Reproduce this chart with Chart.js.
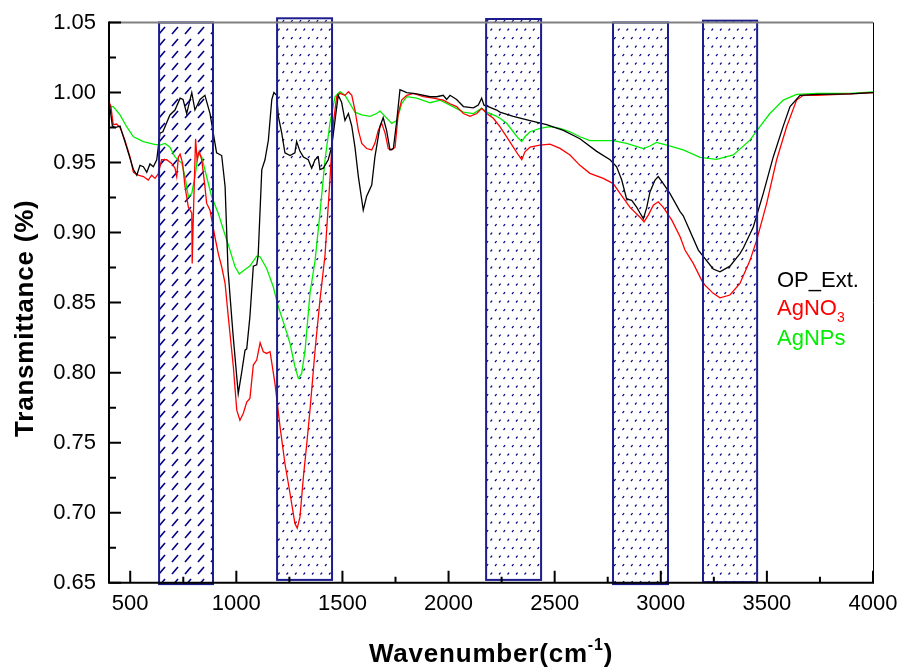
<!DOCTYPE html>
<html>
<head>
<meta charset="utf-8">
<script src="https://cdn.jsdelivr.net/npm/chart.js@4"></script>
<style>
  html, body { margin: 0; padding: 0; background: #fff; }
</style>
</head>
<body>
<canvas id="ftir" width="899" height="667"></canvas>
<script>
// FTIR spectra (wavenumber in cm-1, transmittance)
const opExtWavenumber = [400, 416, 428, 452, 483, 515, 531, 546, 562, 578, 593, 609, 625, 640, 654, 687, 711, 735, 749, 766, 790, 805, 829, 852, 876, 907, 931, 947, 961, 984, 1009, 1025, 1041, 1049, 1064, 1080, 1096, 1103, 1120, 1135, 1151, 1167, 1177, 1190, 1198, 1214, 1229, 1253, 1276, 1284, 1300, 1316, 1339, 1355, 1371, 1386, 1394, 1410, 1433, 1449, 1465, 1480, 1496, 1512, 1528, 1544, 1559, 1575, 1598, 1614, 1638, 1653, 1677, 1692, 1708, 1724, 1740, 1756, 1771, 1803, 1850, 1913, 1944, 1975, 1991, 2007, 2038, 2070, 2117, 2140, 2156, 2167, 2187, 2227, 2242, 2305, 2384, 2462, 2541, 2619, 2698, 2761, 2792, 2816, 2839, 2863, 2887, 2902, 2918, 2934, 2949, 2973, 2988, 3012, 3043, 3091, 3106, 3177, 3200, 3247, 3279, 3326, 3373, 3389, 3436, 3483, 3530, 3577, 3609, 3656, 3735, 3892, 4000];
const opExtT = [0.994, 0.976, 0.975, 0.976, 0.961, 0.945, 0.941, 0.948, 0.947, 0.943, 0.949, 0.947, 0.952, 0.971, 0.972, 0.984, 0.9875, 0.996, 0.995, 0.985, 1.000, 0.9875, 0.995, 0.998, 0.985, 0.957, 0.955, 0.933, 0.873, 0.828, 0.785, 0.800, 0.816, 0.817, 0.840, 0.876, 0.877, 0.884, 0.945, 0.952, 0.966, 0.995, 1.000, 0.998, 0.983, 0.971, 0.957, 0.955, 0.957, 0.965, 0.958, 0.954, 0.952, 0.946, 0.952, 0.954, 0.945, 0.946, 0.952, 0.961, 0.980, 0.998, 0.993, 0.980, 0.985, 0.976, 0.961, 0.940, 0.916, 0.926, 0.934, 0.954, 0.976, 0.982, 0.973, 0.959, 0.960, 0.980, 1.002, 1.000, 0.999, 0.997, 0.997, 0.998, 0.995, 0.998, 0.995, 0.990, 0.989, 0.991, 0.996, 0.991, 0.990, 0.9875, 0.986, 0.983, 0.980, 0.977, 0.973, 0.967, 0.958, 0.952, 0.947, 0.9375, 0.924, 0.923, 0.918, 0.914, 0.910, 0.918, 0.929, 0.9375, 0.940, 0.935, 0.928, 0.915, 0.912, 0.8875, 0.883, 0.874, 0.872, 0.876, 0.885, 0.889, 0.904, 0.928, 0.954, 0.976, 0.990, 0.998, 0.9987, 0.999, 1.000];

const agno3Wavenumber = [400, 409, 420, 436, 452, 475, 499, 515, 538, 562, 585, 601, 617, 632, 648, 672, 695, 711, 719, 727, 735, 747, 758, 774, 790, 792, 797, 808, 815, 825, 837, 852, 860, 876, 899, 915, 931, 947, 962, 986, 1002, 1017, 1033, 1049, 1064, 1080, 1096, 1112, 1127, 1143, 1159, 1182, 1206, 1229, 1253, 1276, 1287, 1300, 1316, 1332, 1347, 1371, 1394, 1418, 1441, 1457, 1473, 1488, 1512, 1528, 1544, 1559, 1575, 1591, 1614, 1638, 1653, 1669, 1685, 1701, 1716, 1732, 1748, 1763, 1779, 1803, 1834, 1881, 1928, 1975, 2007, 2038, 2070, 2101, 2133, 2156, 2180, 2211, 2242, 2274, 2305, 2329, 2345, 2360, 2384, 2431, 2478, 2525, 2572, 2619, 2666, 2729, 2776, 2808, 2855, 2902, 2921, 2941, 2965, 2988, 3012, 3052, 3091, 3114, 3153, 3200, 3247, 3279, 3326, 3373, 3420, 3452, 3499, 3546, 3593, 3640, 3672, 3735, 3892, 4000];
const agno3T = [0.9934, 0.990, 0.977, 0.9775, 0.975, 0.966, 0.954, 0.943, 0.941, 0.940, 0.9375, 0.941, 0.9387, 0.942, 0.952, 0.952, 0.9494, 0.946, 0.940, 0.954, 0.956, 0.9494, 0.933, 0.918, 0.914, 0.878, 0.909, 0.967, 0.952, 0.958, 0.952, 0.933, 0.921, 0.916, 0.897, 0.885, 0.8756, 0.8637, 0.840, 0.804, 0.7732, 0.766, 0.771, 0.779, 0.7816, 0.8054, 0.809, 0.8213, 0.8149, 0.8137, 0.8149, 0.7923, 0.7613, 0.7351, 0.7137, 0.6923, 0.689, 0.697, 0.7256, 0.7494, 0.7732, 0.816, 0.8518, 0.884, 0.9375, 0.978, 0.997, 0.9994, 0.998, 1.0006, 0.998, 0.9875, 0.973, 0.9637, 0.960, 0.959, 0.9637, 0.973, 0.978, 0.971, 0.960, 0.959, 0.961, 0.985, 0.9946, 0.998, 0.9994, 0.997, 0.996, 0.9946, 0.992, 0.990, 0.985, 0.983, 0.985, 0.9887, 0.985, 0.9816, 0.9756, 0.9684, 0.961, 0.9554, 0.952, 0.9577, 0.961, 0.9625, 0.9632, 0.9601, 0.9554, 0.948, 0.9423, 0.9387, 0.935, 0.928, 0.918, 0.911, 0.9077, 0.9125, 0.9196, 0.922, 0.918, 0.9089, 0.897, 0.8875, 0.878, 0.8637, 0.8566, 0.8534, 0.8554, 0.8637, 0.880, 0.8946, 0.9209, 0.952, 0.9756, 0.9946, 0.998, 0.998, 0.999, 1.000];

const agnpsWavenumber = [400, 420, 452, 483, 515, 562, 609, 640, 664, 687, 711, 743, 758, 774, 790, 805, 821, 837, 860, 884, 915, 939, 970, 994, 1014, 1033, 1064, 1096, 1112, 1143, 1174, 1198, 1229, 1253, 1276, 1292, 1308, 1324, 1347, 1371, 1394, 1418, 1441, 1465, 1488, 1512, 1536, 1559, 1591, 1630, 1661, 1677, 1701, 1732, 1756, 1779, 1803, 1850, 1913, 1960, 2007, 2070, 2117, 2156, 2180, 2227, 2242, 2274, 2305, 2329, 2345, 2360, 2384, 2431, 2478, 2525, 2572, 2619, 2666, 2729, 2776, 2839, 2918, 2949, 2980, 3028, 3106, 3185, 3263, 3342, 3420, 3467, 3514, 3577, 3640, 3735, 3892, 4000];
const agnpsT = [0.990, 0.990, 0.984, 0.9756, 0.9684, 0.965, 0.9632, 0.9625, 0.9637, 0.961, 0.954, 0.9494, 0.940, 0.9256, 0.928, 0.940, 0.9566, 0.954, 0.940, 0.9256, 0.9137, 0.902, 0.8875, 0.8756, 0.8704, 0.8727, 0.8761, 0.8832, 0.8827, 0.8744, 0.8613, 0.847, 0.8327, 0.8208, 0.8044, 0.7959, 0.7994, 0.816, 0.8566, 0.880, 0.9137, 0.952, 0.978, 0.997, 1.0006, 0.998, 0.992, 0.986, 0.984, 0.983, 0.985, 0.9868, 0.983, 0.978, 0.980, 0.992, 0.997, 0.996, 0.9927, 0.9946, 0.991, 0.986, 0.985, 0.9887, 0.986, 0.983, 0.9816, 0.978, 0.972, 0.9673, 0.965, 0.9684, 0.972, 0.9744, 0.9756, 0.9744, 0.972, 0.9684, 0.9656, 0.9656, 0.9656, 0.9637, 0.960, 0.9618, 0.9644, 0.9625, 0.959, 0.9537, 0.9523, 0.9554, 0.966, 0.9756, 0.985, 0.9946, 0.9987, 0.9994, 0.9994, 1.0004];

// hatched bands: wavenumber range and vertical extent
const bandStart = [636, 1192, 2177, 2775, 3199];
const bandEnd = [890, 1451, 2436, 3034, 3454];
const bandTop = [1.05, 1.053, 1.0525, 1.05, 1.0513];
const bandBottom = [0.649, 0.652, 0.652, 0.649, 0.6504];

const xTickValues = [500, 1000, 1500, 2000, 2500, 3000, 3500, 4000];
const xMinorValues = [750, 1250, 1750, 2250, 2750, 3250, 3750];
const yTickValues = [0.65, 0.70, 0.75, 0.80, 0.85, 0.90, 0.95, 1.00, 1.05];
const yMinorValues = [0.675, 0.725, 0.775, 0.825, 0.875, 0.925, 0.975, 1.025];

const seriesNames = ['OP_Ext.', 'AgNO', 'AgNPs'];
const seriesColors = ['#000000', '#ff0000', '#00ee00'];

const FONT = '"Liberation Sans", Arial, sans-serif';
const NAVY = '#1c1c8c';

function toPoints(xs, ys) {
  return xs.map((x, i) => ({ x: x, y: ys[i] }));
}

function slashPattern(ctx) {
  const c = document.createElement('canvas');
  c.width = 13; c.height = 12;
  const g = c.getContext('2d');
  g.strokeStyle = '#000080';
  g.lineWidth = 1.6;
  g.beginPath(); g.moveTo(3, 10); g.lineTo(9, 3); g.stroke();
  return ctx.createPattern(c, 'repeat');
}

function dotPattern(ctx) {
  const c = document.createElement('canvas');
  c.width = 17; c.height = 17;
  const g = c.getContext('2d');
  g.strokeStyle = '#000080';
  g.lineWidth = 1.2;
  [[2, 4], [10.5, 4], [6, 12.5], [14.5, 12.5]].forEach(p => {
    g.beginPath(); g.moveTo(p[0], p[1] + 1); g.lineTo(p[0] + 1.6, p[1] - 0.8); g.stroke();
  });
  return ctx.createPattern(c, 'repeat');
}

const bandPlugin = {
  id: 'bands',
  beforeDatasetsDraw(chart) {
    const { ctx, scales: { x, y } } = chart;
    const pats = [slashPattern(ctx), dotPattern(ctx)];
    ctx.save();
    bandStart.forEach((s, i) => {
      const l = x.getPixelForValue(s), r = x.getPixelForValue(bandEnd[i]);
      const t = y.getPixelForValue(bandTop[i]), b = y.getPixelForValue(bandBottom[i]);
      ctx.fillStyle = i === 0 ? pats[0] : pats[1];
      ctx.fillRect(l, t, r - l, b - t);
    });
    ctx.restore();
  },
  afterDatasetsDraw(chart) {
    const { ctx, chartArea: a, scales: { x, y } } = chart;
    ctx.save();
    // band outlines
    ctx.strokeStyle = NAVY;
    ctx.lineWidth = 2;
    bandStart.forEach((s, i) => {
      const l = x.getPixelForValue(s), r = x.getPixelForValue(bandEnd[i]);
      const t = y.getPixelForValue(bandTop[i]), b = y.getPixelForValue(bandBottom[i]);
      ctx.strokeRect(l, t, r - l, b - t);
    });

    // frame
    ctx.lineWidth = 2;
    ctx.strokeStyle = '#808080';
    ctx.beginPath(); ctx.moveTo(a.left, a.top); ctx.lineTo(a.right, a.top); ctx.stroke();
    ctx.strokeStyle = '#000';
    ctx.lineWidth = 1;
    ctx.beginPath(); ctx.moveTo(a.right + 0.5, a.top); ctx.lineTo(a.right + 0.5, a.bottom); ctx.stroke();
    ctx.lineWidth = 2;
    ctx.beginPath();
    ctx.moveTo(a.left, a.top - 1); ctx.lineTo(a.left, a.bottom); ctx.lineTo(a.right + 1, a.bottom);
    ctx.stroke();

    // inward ticks
    ctx.lineWidth = 2;
    ctx.beginPath();
    xTickValues.forEach(v => { const p = x.getPixelForValue(v); ctx.moveTo(p, a.bottom); ctx.lineTo(p, a.bottom - 12); });
    xMinorValues.forEach(v => { const p = x.getPixelForValue(v); ctx.moveTo(p, a.bottom); ctx.lineTo(p, a.bottom - 6); });
    yTickValues.forEach(v => { const p = y.getPixelForValue(v); ctx.moveTo(a.left, p); ctx.lineTo(a.left + 12, p); });
    yMinorValues.forEach(v => { const p = y.getPixelForValue(v); ctx.moveTo(a.left, p); ctx.lineTo(a.left + 7, p); });
    ctx.stroke();

    // legend (text only)
    ctx.textAlign = 'left';
    ctx.textBaseline = 'alphabetic';
    ctx.font = '22px ' + FONT;
    ctx.fillStyle = seriesColors[0];
    ctx.fillText(seriesNames[0], 777, 287);
    ctx.fillStyle = seriesColors[1];
    ctx.fillText(seriesNames[1], 777, 315);
    const w = ctx.measureText(seriesNames[1]).width;
    ctx.font = '14px ' + FONT;
    ctx.fillText('3', 777 + w, 322);
    ctx.font = '22px ' + FONT;
    ctx.fillStyle = seriesColors[2];
    ctx.fillText(seriesNames[2], 777, 345);

    // axis titles
    ctx.fillStyle = '#000';
    ctx.letterSpacing = '0.8px';
    ctx.font = 'bold 26px ' + FONT;
    ctx.save();
    ctx.translate(33, 437);
    ctx.rotate(-Math.PI / 2);
    ctx.textAlign = 'left';
    ctx.fillText('Transmittance (%)', 0, 0);
    ctx.restore();

    const main = 'Wavenumber(cm', sup = '-1', close = ')';
    ctx.font = 'bold 26px ' + FONT;
    const w1 = ctx.measureText(main).width, w3 = ctx.measureText(close).width;
    ctx.font = 'bold 16px ' + FONT;
    const w2 = ctx.measureText(sup).width;
    let sx = 491 - (w1 + w2 + w3) / 2;
    const base = 662;
    ctx.font = 'bold 26px ' + FONT;
    ctx.fillText(main, sx, base);
    ctx.font = 'bold 16px ' + FONT;
    ctx.fillText(sup, sx + w1, base - 12);
    ctx.font = 'bold 26px ' + FONT;
    ctx.fillText(close, sx + w1 + w2, base);
    ctx.restore();
  }
};

const ctx = document.getElementById('ftir').getContext('2d');
new Chart(ctx, {
  type: 'line',
  data: {
    datasets: [
      { label: 'OP_Ext.', data: toPoints(opExtWavenumber, opExtT), borderColor: seriesColors[0] },
      { label: 'AgNO3', data: toPoints(agno3Wavenumber, agno3T), borderColor: seriesColors[1] },
      { label: 'AgNPs', data: toPoints(agnpsWavenumber, agnpsT), borderColor: seriesColors[2] }
    ]
  },
  options: {
    responsive: false,
    animation: false,
    layout: { padding: { left: 0, top: 22.5, right: 26, bottom: 0 } },
    elements: { point: { radius: 0 }, line: { borderWidth: 1.3, tension: 0, fill: false } },
    plugins: { legend: { display: false }, tooltip: { enabled: false } },
    scales: {
      x: {
        type: 'linear', min: 400, max: 4000,
        afterBuildTicks: s => { s.ticks = xTickValues.map(v => ({ value: v })); },
        afterFit: s => { s.height = 84.3; s.paddingLeft = 0; s.paddingRight = 0; },
        grid: { display: false, drawTicks: false },
        border: { display: false },
        ticks: { color: '#000', font: { family: FONT, size: 22 }, padding: 8, maxRotation: 0, autoSkip: false,
                 callback: v => String(v) }
      },
      y: {
        min: 0.65, max: 1.05,
        afterBuildTicks: s => { s.ticks = yTickValues.map(v => ({ value: v })); },
        afterFit: s => { s.width = 109; s.paddingTop = 0; s.paddingBottom = 0; },
        grid: { display: false, drawTicks: false },
        border: { display: false },
        ticks: { color: '#000', font: { family: FONT, size: 22 }, padding: 13, autoSkip: false,
                 callback: v => v.toFixed(2) }
      }
    }
  },
  plugins: [bandPlugin]
});
</script>
</body>
</html>
